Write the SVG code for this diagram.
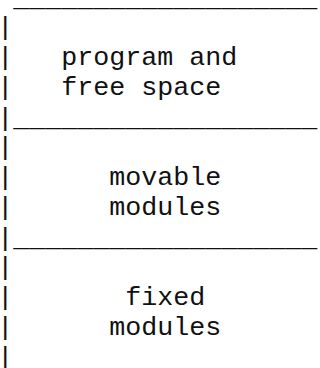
<svg xmlns="http://www.w3.org/2000/svg" width="320" height="368" viewBox="0 0 320 368">
  <style>
    text { font-family: "Liberation Mono", "Courier New", monospace; font-size: 26.67px; fill: #111; white-space: pre; }
  </style>
  <rect width="320" height="368" fill="#fff"/>
  <!-- memory map drawn as fixed-width rows: 16px cells, 30px line pitch -->
  <g id="connectors">
    <text x="-2.67" y="5.5"> ___________________</text>
    <text x="-2.67" y="35">|</text>
    <text x="-2.67" y="125.5">|___________________</text>
    <text x="-2.67" y="155">|</text>
    <text x="-2.67" y="245.5">|___________________</text>
    <text x="-2.67" y="275">|</text>
    <text x="-2.67" y="365">|</text>
  </g>
  <g id="program-free-space">
    <text x="-2.67" y="65">|   program and</text>
    <text x="-2.67" y="95">|   free space</text>
  </g>
  <g id="movable-modules">
    <text x="-2.67" y="185">|      movable</text>
    <text x="-2.67" y="215">|      modules</text>
  </g>
  <g id="fixed-modules">
    <text x="-2.67" y="305">|       fixed</text>
    <text x="-2.67" y="335">|      modules</text>
  </g>
</svg>
